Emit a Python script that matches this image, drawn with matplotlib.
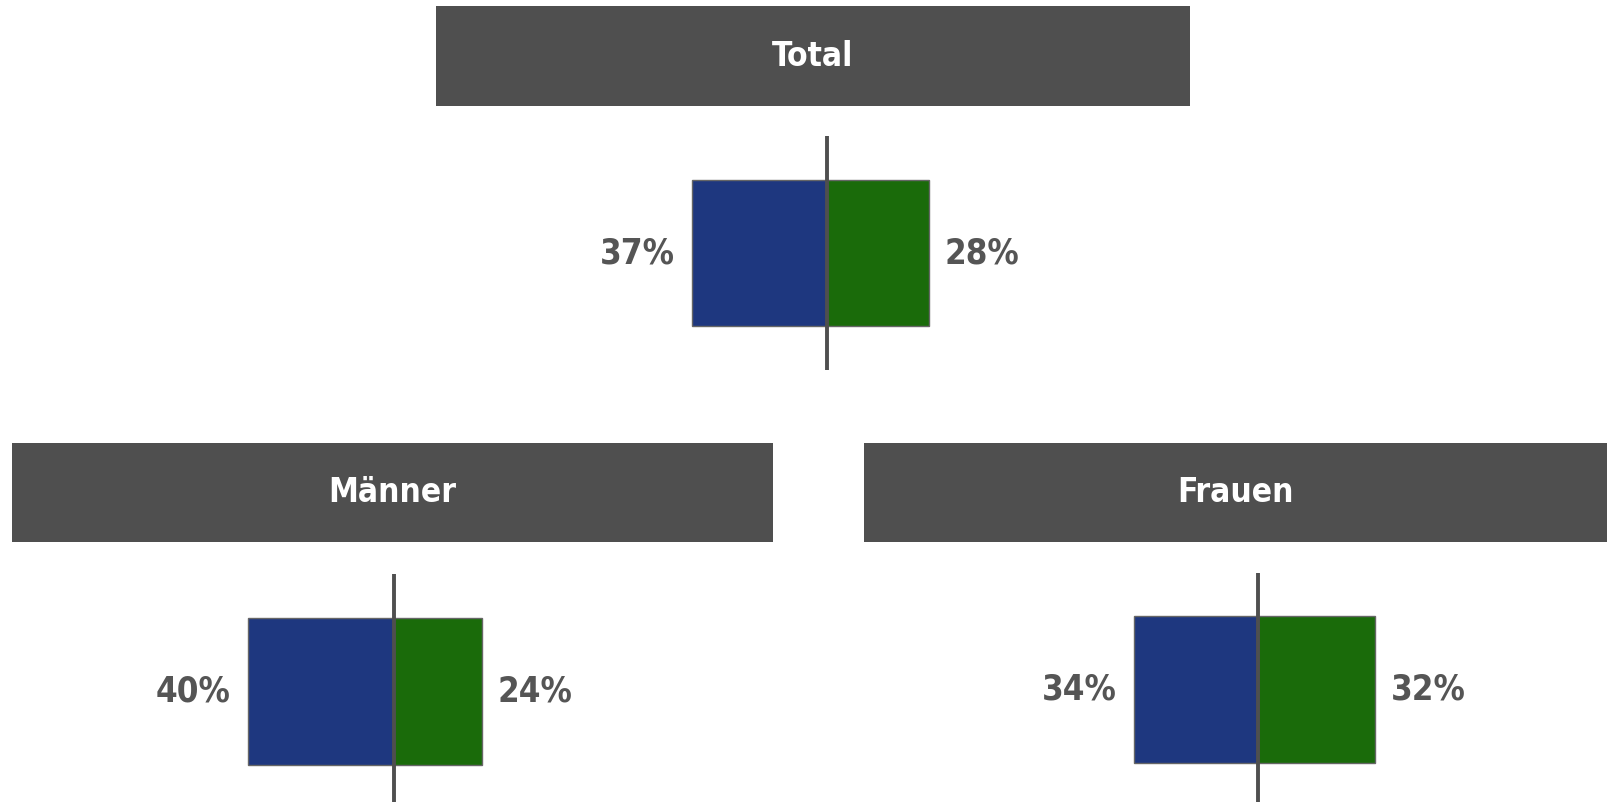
import matplotlib
matplotlib.use("Agg")
from matplotlib import pyplot as plt
from matplotlib import font_manager as fm

# data
groups = ["Total", "Männer", "Frauen"]
left_values = [37, 40, 34]
right_values = [28, 24, 32]

# layout in pixels (figure is 1608 x 802): header box and centre of the bars
W, H = 1608, 802
headers = [(436, 6, 1190, 106), (12, 443, 773, 542), (864, 443, 1608, 542)]
centres = [(827, 253), (394, 691), (1258, 690)]
px_per_pct = 3.66
half_span = 60  # percent shown either side of the axis line
line_half = 117  # px, vertical line above/below bar centre
bar_px = 147

blue = "#1e377f"
green = "#1a6b0a"
dark = "#4f4f4f"
text_grey = "#555555"

# narrow bold face like the original; fall back to condensed DejaVu
installed = {f.name for f in fm.fontManager.ttflist}
if "Liberation Sans Narrow" in installed:
    font = dict(family="Liberation Sans Narrow", fontweight="bold")
else:
    font = dict(family="DejaVu Sans", fontstretch="condensed", fontweight="bold")


def fig_rect(x0, y0, x1, y1):
    # pixel box (top-left origin) -> figure fraction rect
    return [x0 / W, 1 - y1 / H, (x1 - x0) / W, (y1 - y0) / H]


fig = plt.figure(figsize=(16.08, 8.02), dpi=100)
fig.patch.set_facecolor("white")

for name, lv, rv, hb, (cx, cy) in zip(groups, left_values, right_values, headers, centres):
    # header bar
    hax = fig.add_axes(fig_rect(*hb))
    hax.set_facecolor(dark)
    hax.set_xticks([])
    hax.set_yticks([])
    for s in hax.spines.values():
        s.set_visible(False)
    hax.text(0.5, 0.5, name, ha="center", va="center", color="white",
             fontsize=24, transform=hax.transAxes, **font)

    # bars around the axis line
    w = half_span * px_per_pct
    ax = fig.add_axes(fig_rect(cx - w, cy - line_half, cx + w, cy + line_half))
    ax.set_xlim(-half_span, half_span)
    ax.set_ylim(-0.5, 0.5)
    ax.axis("off")
    h = bar_px / (2 * line_half)
    ax.barh(0, -lv, height=h, color=blue, edgecolor="#666666", linewidth=1)
    ax.barh(0, rv, height=h, color=green, edgecolor="#666666", linewidth=1)
    ax.axvline(0, color=dark, lw=2.8)

    ax.annotate(f"{lv}%", (-lv, 0), xytext=(-12, 0), textcoords="offset points",
                ha="right", va="center", color=text_grey, fontsize=25, **font)
    ax.annotate(f"{rv}%", (rv, 0), xytext=(11, 0), textcoords="offset points",
                ha="left", va="center", color=text_grey, fontsize=25, **font)

fig.savefig("out.png", dpi=100, facecolor="white")
